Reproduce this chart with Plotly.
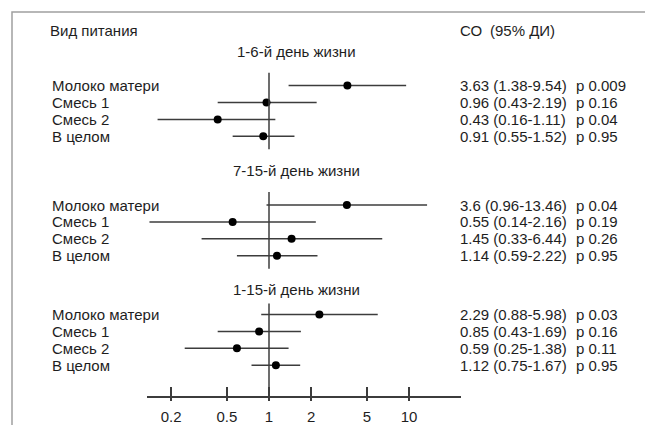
import math
import plotly.graph_objects as go

# ---- data ----
categories = ["Молоко матери", "Смесь 1", "Смесь 2", "В целом"]
periods = ["1-6-й день жизни", "7-15-й день жизни", "1-15-й день жизни"]
or_vals = [[3.63, 0.96, 0.43, 0.91],
           [3.6, 0.55, 1.45, 1.14],
           [2.29, 0.85, 0.59, 1.12]]
ci_low = [[1.38, 0.43, 0.16, 0.55],
          [0.96, 0.14, 0.33, 0.59],
          [0.88, 0.43, 0.25, 0.75]]
ci_high = [[9.54, 2.19, 1.11, 1.52],
           [13.46, 2.16, 6.44, 2.22],
           [5.98, 1.69, 1.38, 1.67]]
p_vals = [["0.009", "0.16", "0.04", "0.95"],
          ["0.04", "0.19", "0.26", "0.95"],
          ["0.03", "0.16", "0.11", "0.95"]]
tick_vals = [0.2, 0.5, 1, 2, 5, 10]
tick_text = ["0.2", "0.5", "1", "2", "5", "10"]
ref_value = 1

# ---- layout (pixel positions of panels) ----
W, H = 645, 425
axis_y = 398
title_y = [52, 171, 291]
row0_y = [86, 206, 316]
row_step = 17
ref_span = [(73, 150), (193, 270), (305, axis_y)]
x_px_left, x_px_right = 147, 461
px_one, px_per_decade = 269, 140

FONT = "Liberation Sans, Arial, sans-serif"
TXT = "#1e1e1e"
LINE = "#3c3c3c"

xr = [(x_px_left - px_one) / px_per_decade, (x_px_right - px_one) / px_per_decade]
xdom = [x_px_left / W, x_px_right / W]

fig = go.Figure()
annotations = []

def ann(text, x_px, y, size=15, xanchor="left"):
    annotations.append(dict(text=text, x=x_px / W, xref="paper", y=y, yref="y",
                            xanchor=xanchor, yanchor="middle", showarrow=False,
                            font=dict(family=FONT, size=size, color=TXT)))

ann("Вид питания", 48, 31)
ann("СО", 458, 31)
ann("(95% ДИ)", 488, 31)

ref_x, ref_y = [], []
for p, period in enumerate(periods):
    ann(period, 296, title_y[p], size=15, xanchor="center")
    lx, ly, dx, dy = [], [], [], []
    for r, cat in enumerate(categories):
        yy = row0_y[p] + r * row_step
        lx += [ci_low[p][r], ci_high[p][r], None]
        ly += [yy, yy, None]
        dx.append(or_vals[p][r])
        dy.append(yy)
        ann(cat, 50, yy)
        ann(f"{or_vals[p][r]} ({ci_low[p][r]}-{ci_high[p][r]})", 458, yy)
        ann(f"p {p_vals[p][r]}", 574, yy)
    fig.add_trace(go.Scatter(x=lx, y=ly, mode="lines",
                             line=dict(color=LINE, width=1.5),
                             hoverinfo="skip", showlegend=False))
    fig.add_trace(go.Scatter(x=dx, y=dy, mode="markers",
                             marker=dict(color="black", size=8, symbol="circle"),
                             hoverinfo="skip", showlegend=False))
    ref_x += [ref_value, ref_value, None]
    ref_y += [ref_span[p][0], ref_span[p][1], None]

fig.add_trace(go.Scatter(x=ref_x, y=ref_y, mode="lines", xaxis="x2",
                         line=dict(color=LINE, width=1.5),
                         hoverinfo="skip", showlegend=False))

axis_common = dict(type="log", range=xr, domain=xdom, anchor="y",
                   tickvals=tick_vals, showgrid=False, zeroline=False,
                   tickcolor=LINE, tickwidth=1.5)

fig.update_layout(
    width=W, height=H, autosize=False,
    margin=dict(l=0, r=0, t=0, b=0),
    paper_bgcolor="white", plot_bgcolor="white",
    xaxis=dict(**axis_common, ticktext=tick_text, ticks="inside", ticklen=9,
               showline=True, linecolor=LINE, linewidth=1.5,
               ticklabelstandoff=6,
               tickfont=dict(family=FONT, size=15, color=TXT)),
    xaxis2=dict(**axis_common, overlaying="x", ticks="outside", ticklen=4,
                showticklabels=False, showline=False),
    yaxis=dict(range=[axis_y, 0], domain=[(H - axis_y) / H, 1], visible=False),
    annotations=annotations,
    shapes=[dict(type="rect", xref="paper", yref="paper",
                 x0=12 / W, x1=1.1, y0=-0.1, y1=1 - 12 / H,
                 line=dict(color="#a0a0a0", width=1.5))],
)

fig.write_html("out.html")
